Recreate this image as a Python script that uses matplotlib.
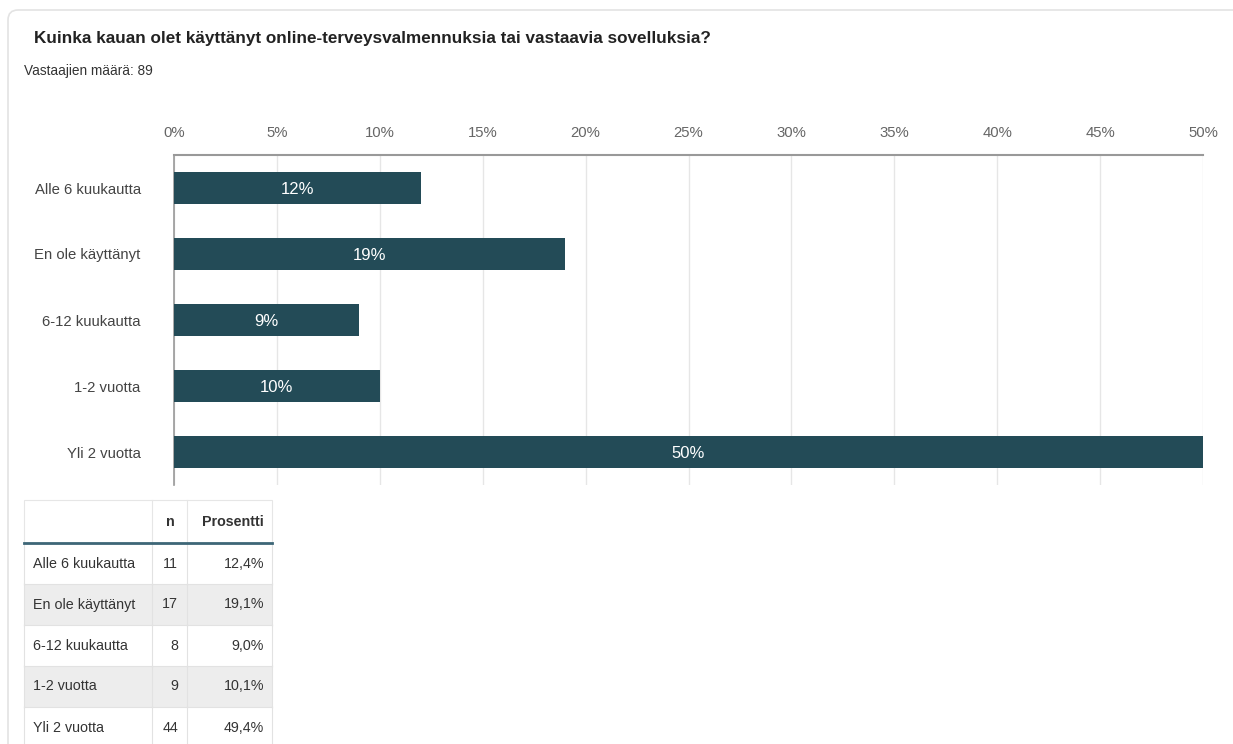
import matplotlib.pyplot as plt
from matplotlib.patches import FancyBboxPatch, Rectangle
import numpy as np

plt.rcParams["font.family"] = ["Liberation Sans", "DejaVu Sans"]

# ============================================================
# Data
# ============================================================
title = "Kuinka kauan olet käyttänyt online-terveysvalmennuksia tai vastaavia sovelluksia?"
subtitle = "Vastaajien määrä: 89"

categories = ["Alle 6 kuukautta", "En ole käyttänyt", "6-12 kuukautta", "1-2 vuotta", "Yli 2 vuotta"]
counts = [11, 17, 8, 9, 44]
percent_exact = ["12,4%", "19,1%", "9,0%", "10,1%", "49,4%"]
percent_rounded = [12, 19, 9, 10, 50]

bar_color = "#234b57"
W, H = 1233, 744

fig = plt.figure(figsize=(W / 100, H / 100), dpi=100)
fig.patch.set_facecolor("white")

# overlay in pixel coordinates for the card, headings and table
bg = fig.add_axes([0, 0, 1, 1])
bg.set_xlim(0, W)
bg.set_ylim(H, 0)
bg.axis("off")

card = FancyBboxPatch((8, 10), W + 40, H + 40, boxstyle="round,pad=0,rounding_size=10",
                      fc="white", ec="#e3e3e3", lw=1.2)
bg.add_patch(card)
bg.text(34, 38, title, fontsize=12.3, fontweight="bold", color="#222222", va="center", ha="left")
bg.text(24, 71, subtitle, fontsize=9.8, color="#333333", va="center", ha="left")

# ============================================================
# Bar chart
# ============================================================
ax = fig.add_axes([174 / W, 1 - 485 / H, (1203 - 174) / W, (485 - 155) / H])
y = np.arange(len(categories))
bars = ax.barh(y, percent_rounded, height=0.49, color=bar_color, zorder=3)

ax.set_xlim(0, 50)
ax.set_ylim(len(categories) - 0.5, -0.5)
ax.set_xticks(np.arange(0, 51, 5))
ax.set_xticklabels([f"{v}%" for v in range(0, 51, 5)])
ax.xaxis.tick_top()
ax.tick_params(axis="x", length=0, pad=11, labelsize=10.7, labelcolor="#666666")
ax.set_yticks(y)
ax.set_yticklabels(categories)
ax.tick_params(axis="y", length=0, pad=24, labelsize=10.7, labelcolor="#444444")
ax.grid(axis="x", color="#e6e6e6", lw=1, zorder=0)

for side in ["right", "bottom"]:
    ax.spines[side].set_visible(False)
ax.spines["top"].set_color("#999999")
ax.spines["top"].set_linewidth(1.5)
ax.spines["left"].set_color("#999999")
ax.spines["left"].set_linewidth(1.2)

for b, v in zip(bars, percent_rounded):
    ax.text(b.get_width() / 2, b.get_y() + b.get_height() / 2, f"{v}%",
            ha="center", va="center_baseline", color="white", fontsize=12, zorder=4)

# ============================================================
# Table
# ============================================================
col_x = [24, 152, 187, 272]
header_top, header_bot = 500, 543
row_h = 41

bg.add_patch(Rectangle((col_x[0], header_top), col_x[-1] - col_x[0], header_bot - header_top,
                       fc="white", ec="#e6e6e6", lw=0.8))
bg.text(170, (header_top + header_bot) / 2, "n", fontsize=10.3, fontweight="bold",
        color="#333333", ha="center", va="center")
bg.text(264, (header_top + header_bot) / 2, "Prosentti", fontsize=10.3, fontweight="bold",
        color="#333333", ha="right", va="center")

for i, (cat, n, p) in enumerate(zip(categories, counts, percent_exact)):
    top = header_bot + i * row_h
    fc = "#ededed" if i % 2 == 1 else "white"
    bg.add_patch(Rectangle((col_x[0], top), col_x[-1] - col_x[0], row_h, fc=fc, ec="none"))
    for cx in col_x:
        bg.plot([cx, cx], [top, top + row_h], color="#e2e2e2", lw=0.8)
    bg.plot([col_x[0], col_x[-1]], [top + row_h, top + row_h], color="#e2e2e2", lw=0.8)
    cy = top + row_h / 2
    bg.text(33, cy, cat, fontsize=10.3, color="#333333", ha="left", va="center")
    bg.text(178, cy, str(n), fontsize=10.3, color="#333333", ha="right", va="center")
    bg.text(264, cy, p, fontsize=10.3, color="#333333", ha="right", va="center")

for cx in col_x[1:3]:
    bg.plot([cx, cx], [header_top, header_bot], color="#e6e6e6", lw=0.8)
bg.plot([col_x[0], col_x[-1]], [header_bot, header_bot], color="#3d6677", lw=2)

fig.savefig("out.png", dpi=100)
